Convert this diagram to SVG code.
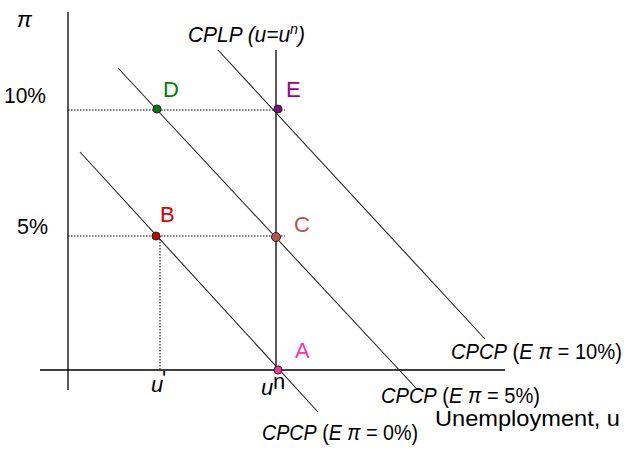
<svg xmlns="http://www.w3.org/2000/svg" width="636" height="454" viewBox="0 0 636 454">
<style>
text{font-family:"Liberation Sans","DejaVu Sans",sans-serif;font-size:22px;fill:#000}
.i{font-style:italic}
.ax{stroke:#000;stroke-width:1.3;fill:none}
.cur{stroke:#222;stroke-width:1.1;fill:none}
.dot{stroke:#000;stroke-width:1;stroke-dasharray:1.5,1.5;fill:none}
.pt{stroke:#222;stroke-width:1}
</style>
<rect width="636" height="454" fill="#fff"/>
<g id="connectors">
<line class="ax" x1="68" y1="12" x2="68" y2="390"/>
<line class="ax" x1="40" y1="370" x2="505" y2="370"/>
<line class="ax" x1="276" y1="50" x2="276" y2="370"/>
<line class="dot" x1="68" y1="110" x2="285" y2="110"/>
<line class="dot" x1="68" y1="236" x2="285" y2="236"/>
<line class="dot" x1="160" y1="236" x2="160" y2="370"/>
<line class="cur" x1="80" y1="152" x2="318" y2="412"/>
<line class="cur" x1="118" y1="68" x2="416" y2="388"/>
<line class="cur" x1="218" y1="50" x2="485" y2="339"/>
</g>
<g id="axis-labels">
<text x="17" y="27" class="i">π</text>
<text x="4" y="103" textLength="42" lengthAdjust="spacingAndGlyphs">10%</text>
<text x="17" y="234" textLength="31" lengthAdjust="spacingAndGlyphs">5%</text>
<text x="151" y="392" class="i">u</text>
<text x="162" y="386" font-size="14">'</text>
<text x="261" y="395" class="i">u</text>
<text x="273" y="389" font-size="15">n</text>
<text x="435" y="426" textLength="185" lengthAdjust="spacingAndGlyphs">Unemployment, u</text>
</g>
<g id="CPLP"><text x="188" y="42" class="i" textLength="117" lengthAdjust="spacingAndGlyphs">CPLP (u=u<tspan font-size="15" dy="-8">n</tspan><tspan dy="8">)</tspan></text></g>
<g id="CPCP10"><text x="451" y="359" textLength="171" lengthAdjust="spacingAndGlyphs"><tspan class="i">CPCP</tspan> (<tspan class="i">E π</tspan> = 10%)</text></g>
<g id="CPCP5"><text x="381" y="403" textLength="159" lengthAdjust="spacingAndGlyphs"><tspan class="i">CPCP</tspan> (<tspan class="i">E π</tspan> = 5%)</text></g>
<g id="CPCP0"><text x="262" y="440" textLength="156" lengthAdjust="spacingAndGlyphs"><tspan class="i">CPCP</tspan> (<tspan class="i">E π</tspan> = 0%)</text></g>
<g id="D"><circle class="pt" cx="157" cy="109" r="4" fill="#008000"/><text x="163" y="97" style="fill:#008000">D</text></g>
<g id="E"><circle class="pt" cx="278" cy="109" r="4" fill="#8b008b"/><text x="286" y="97" style="fill:#990099">E</text></g>
<g id="B"><circle class="pt" cx="156" cy="236" r="4" fill="#d00000"/><text x="160" y="222" style="fill:#e00000">B</text></g>
<g id="C"><circle class="pt" cx="276" cy="237" r="4.5" fill="#c0504d"/><text x="294" y="232" style="fill:#c0504d">C</text></g>
<g id="A"><circle class="pt" cx="278" cy="370" r="4" fill="#ff3399"/><text x="295" y="358" style="fill:#ff3399">A</text></g>
</svg>
